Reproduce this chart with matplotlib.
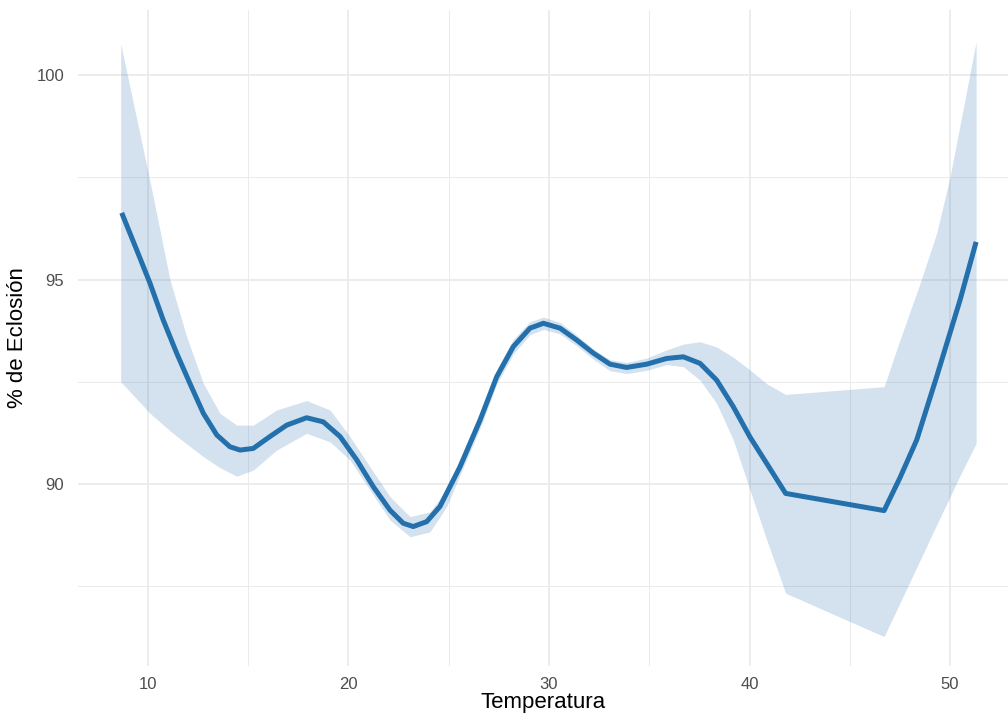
import matplotlib.pyplot as plt

# Smoothed hatch rate vs temperature, with its confidence band
temp = [8.69, 9.44, 10.10, 10.76, 11.43, 12.09, 12.76, 13.43, 14.09, 14.59,
        15.25, 16.08, 16.92, 17.91, 18.74, 19.58, 20.41, 21.24, 22.07, 22.73,
        23.23, 23.90, 24.56, 25.56, 26.56, 27.39, 28.22, 29.05, 29.72, 30.55,
        31.38, 32.21, 33.04, 33.87, 34.87, 35.87, 36.70, 37.53, 38.36, 39.19,
        40.02, 40.86, 41.80, 46.71, 47.50, 48.34, 49.33, 50.50, 51.30]
eclosion = [96.63, 95.72, 94.91, 94.01, 93.20, 92.46, 91.73, 91.20, 90.91, 90.83,
            90.87, 91.16, 91.44, 91.62, 91.52, 91.16, 90.59, 89.93, 89.36, 89.04,
            88.96, 89.08, 89.45, 90.42, 91.56, 92.62, 93.36, 93.81, 93.93, 93.81,
            93.52, 93.20, 92.93, 92.85, 92.93, 93.07, 93.11, 92.95, 92.54, 91.89,
            91.15, 90.50, 89.77, 89.35, 90.15, 91.08, 92.62, 94.50, 95.92]

band_x = [8.64, 10.10, 11.10, 11.93, 12.76, 13.59, 14.42, 15.25, 16.42, 17.91,
          19.08, 20.07, 21.07, 22.07, 23.07, 24.06, 24.90, 25.56, 26.56, 27.39,
          28.22, 29.05, 29.72, 30.55, 31.38, 32.21, 33.04, 33.87, 34.87, 35.87,
          36.70, 37.53, 38.36, 39.19, 40.02, 40.86, 41.80, 46.71, 47.50, 48.50,
          49.33, 50.00, 50.50, 51.30]
upper = [100.76, 97.40, 94.99, 93.60, 92.46, 91.73, 91.44, 91.44, 91.81, 92.04,
         91.81, 91.16, 90.42, 89.69, 89.20, 89.32, 89.85, 90.62, 91.76, 92.80,
         93.54, 93.97, 94.08, 93.95, 93.64, 93.30, 93.04, 92.97, 93.08, 93.28,
         93.42, 93.48, 93.35, 93.10, 92.79, 92.45, 92.19, 92.38, 93.52, 94.90,
         96.13, 97.51, 98.78, 100.81]
lower = [92.50, 91.73, 91.30, 90.98, 90.67, 90.40, 90.19, 90.34, 90.83, 91.24,
         91.03, 90.59, 89.85, 89.12, 88.71, 88.83, 89.45, 90.22, 91.36, 92.44,
         93.18, 93.65, 93.78, 93.67, 93.38, 93.05, 92.77, 92.70, 92.78, 92.92,
         92.87, 92.54, 91.97, 91.08, 89.86, 88.63, 87.33, 86.27, 87.09, 88.13,
         89.00, 89.69, 90.21, 90.99]

LINE_COLOR = '#2470AC'
GRID_COLOR = '#EBEBEB'

plt.rcParams['font.family'] = ['Liberation Sans', 'DejaVu Sans']

fig = plt.figure(figsize=(10.08, 7.23), dpi=100)
ax = fig.add_axes([78 / 1008, 57 / 723, 930 / 1008, 656 / 723])

ax.fill_between(band_x, lower, upper, color=LINE_COLOR, alpha=0.2, linewidth=0, zorder=2)
ax.plot(temp, eclosion, color=LINE_COLOR, linewidth=3.6,
        solid_capstyle='butt', solid_joinstyle='round', zorder=3)

ax.set_xlim(6.51, 52.89)
ax.set_ylim(85.55, 101.59)

ax.set_xticks([10, 20, 30, 40, 50])
ax.set_xticks([15, 25, 35, 45], minor=True)
ax.set_yticks([90, 95, 100])
ax.set_yticks([87.5, 92.5, 97.5], minor=True)

ax.grid(which='major', color=GRID_COLOR, linewidth=1.3, zorder=0)
ax.grid(which='minor', color=GRID_COLOR, linewidth=0.7, zorder=0)
ax.set_axisbelow(True)

for s in ax.spines.values():
    s.set_visible(False)
ax.tick_params(which='both', length=0)
ax.tick_params(axis='both', labelsize=12, labelcolor='#4D4D4D')
ax.tick_params(axis='x', pad=8)
ax.tick_params(axis='y', pad=10)

ax.set_xlabel('Temperatura', fontsize=16, color='black', labelpad=0)
ax.set_ylabel('% de Eclosión', fontsize=16, color='black', labelpad=6)

fig.savefig('out.png', dpi=100, facecolor='white')
